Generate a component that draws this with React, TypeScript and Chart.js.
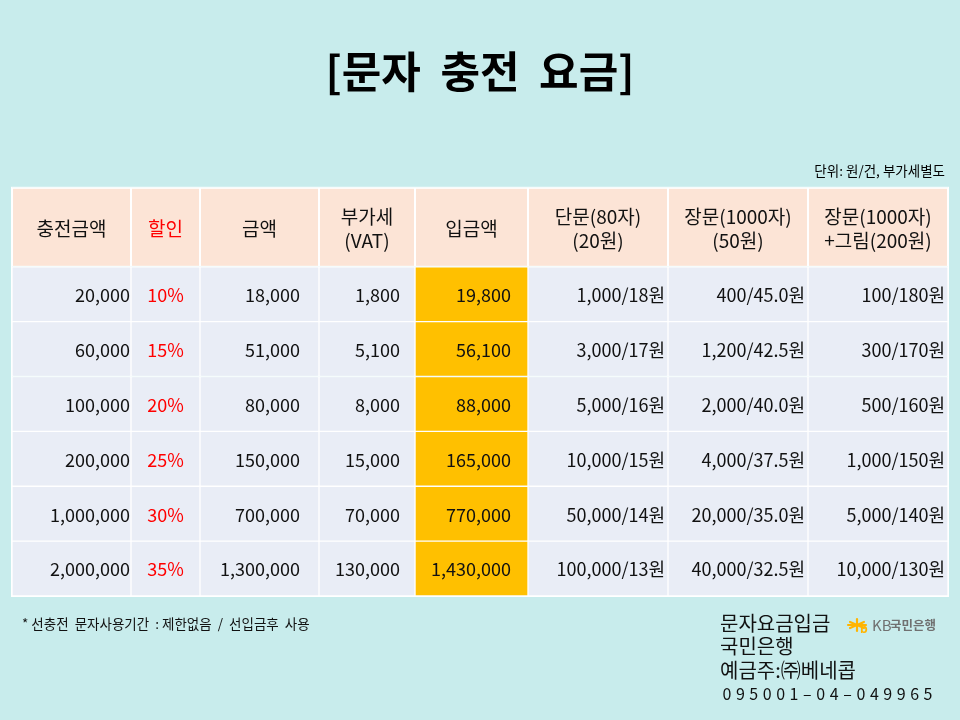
import React, { useEffect, useRef } from 'react';
import { Chart, registerables } from 'chart.js';

Chart.register(...registerables);

// ---------- data ----------
const titleText = '[문자  충전  요금]';
const unitText = '단위: 원/건, 부가세별도 ';
const headers: string[][] = [
  ['충전금액'],
  ['할인'],
  ['금액'],
  ['부가세', '(VAT)'],
  ['입금액'],
  ['단문(80자)', '(20원)'],
  ['장문(1000자)', '(50원)'],
  ['장문(1000자)', '+그림(200원)'],
];
const chargeAmounts = ['20,000', '60,000', '100,000', '200,000', '1,000,000', '2,000,000'];
const discounts = ['10%', '15%', '20%', '25%', '30%', '35%'];
const netAmounts = ['18,000', '51,000', '80,000', '150,000', '700,000', '1,300,000'];
const vatAmounts = ['1,800', '5,100', '8,000', '15,000', '70,000', '130,000'];
const depositAmounts = ['19,800', '56,100', '88,000', '165,000', '770,000', '1,430,000'];
const shortMsg = ['1,000/18원', '3,000/17원', '5,000/16원', '10,000/15원', '50,000/14원', '100,000/13원'];
const longMsg = ['400/45.0원', '1,200/42.5원', '2,000/40.0원', '4,000/37.5원', '20,000/35.0원', '40,000/32.5원'];
const longImgMsg = ['100/180원', '300/170원', '500/160원', '1,000/150원', '5,000/140원', '10,000/130원'];
const noteText = '* 선충전  문자사용기간  : 제한없음  /  선입금후  사용';
const bankLines = ['문자요금입금', '국민은행', '예금주:㈜베네콥'];
const accountNumber = '095001-04-049965';

const columns = [chargeAmounts, discounts, netAmounts, vatAmounts, depositAmounts, shortMsg, longMsg, longImgMsg];

// ---------- layout / style ----------
const colWidths = [119, 69, 119, 96, 113, 140, 140, 140];
const colAlign: CanvasTextAlign[] = ['right', 'center', 'right', 'right', 'right', 'right', 'right', 'right'];
const colPad = [1, 0, 19, 15, 17, 3, 3, 3];
const redCols = [1];
const highlightCol = 4;

const FONT = "'Noto Sans CJK KR', 'Noto Sans', sans-serif";
const BG = '#C8ECEC';
const HEADER_BG = '#FCE4D6';
const CELL_BG = '#E9EDF6';
const HIGHLIGHT_BG = '#FFC000';
const RED = '#FF0000';
const TEXT = '#111111';

const colBounds: [number, number][] = [];
{
  let acc = 0;
  colWidths.forEach((w) => {
    colBounds.push([acc, acc + w]);
    acc += w;
  });
}
const totalWidth = colWidths.reduce((a, b) => a + b, 0);

const tablePlugin = {
  id: 'tablePlugin',
  beforeDatasetsDraw(chart: any) {
    const { ctx } = chart;
    const xs = chart.scales.x;
    const top = xs.top;
    const bottom = xs.bottom;
    ctx.save();
    colBounds.forEach(([a, b], c) => {
      const l = xs.getPixelForValue(a);
      const r = xs.getPixelForValue(b);
      ctx.fillStyle = '#FFFFFF';
      ctx.fillRect(l, top, r - l, bottom - top);
      ctx.fillStyle = HEADER_BG;
      ctx.fillRect(l + 1, top + 1, r - l - 2, bottom - top - 2);
      ctx.fillStyle = redCols.includes(c) ? RED : TEXT;
      ctx.font = `19px ${FONT}`;
      ctx.textAlign = 'center';
      ctx.textBaseline = 'middle';
      const lines = headers[c];
      const cy = (top + bottom) / 2 + 1;
      lines.forEach((ln, k) => {
        ctx.fillText(ln, (l + r) / 2, cy + (k - (lines.length - 1) / 2) * 24);
      });
    });
    ctx.restore();
  },
  afterDatasetsDraw(chart: any) {
    const { ctx } = chart;
    ctx.save();
    ctx.font = `18px ${FONT}`;
    ctx.textBaseline = 'middle';
    chart.data.datasets.forEach((_ds: any, c: number) => {
      const meta = chart.getDatasetMeta(c);
      meta.data.forEach((el: any, i: number) => {
        const l = Math.min(el.x, el.base);
        const r = Math.max(el.x, el.base);
        const txt = columns[c][i];
        ctx.fillStyle = redCols.includes(c) ? RED : TEXT;
        ctx.textAlign = colAlign[c];
        const x = colAlign[c] === 'center' ? (l + r) / 2 + colPad[c] : r - colPad[c];
        ctx.fillText(txt, x, el.y + 1);
      });
    });
    // outer border
    const xs = chart.scales.x;
    const ca = chart.chartArea;
    ctx.strokeStyle = '#FFFFFF';
    ctx.lineWidth = 1;
    ctx.strokeRect(ca.left - 0.5, xs.top - 0.5, ca.right - ca.left + 1, ca.bottom - xs.top + 1);
    ctx.restore();
  },
  afterDraw(chart: any) {
    const { ctx } = chart;
    ctx.save();
    ctx.fillStyle = TEXT;
    ctx.textBaseline = 'middle';
    ctx.textAlign = 'left';
    ctx.font = `13.5px ${FONT}`;
    ctx.fillText(noteText, 22, 624);

    ctx.font = `20px ${FONT}`;
    bankLines.forEach((ln, k) => ctx.fillText(ln, 720, 623 + k * 23.5));

    ctx.font = `16px ${FONT}`;
    const chars = accountNumber.split('');
    chars.forEach((ch, k) => {
      ctx.textAlign = 'center';
      ctx.fillText(ch === '-' ? '–' : ch, 727 + k * 13.4, 694);
    });

    // KB logo
    const cx = 857;
    const cy = 625;
    ctx.strokeStyle = '#FFB400';
    ctx.lineWidth = 2.2;
    ctx.lineCap = 'round';
    for (let k = 0; k < 3; k++) {
      const ang = (k * Math.PI) / 3 + Math.PI / 6;
      ctx.beginPath();
      ctx.moveTo(cx - Math.cos(ang) * 8, cy - Math.sin(ang) * 6);
      ctx.lineTo(cx + Math.cos(ang) * 8, cy + Math.sin(ang) * 6);
      ctx.stroke();
    }
    ctx.beginPath();
    ctx.moveTo(cx - 9, cy);
    ctx.lineTo(cx + 9, cy);
    ctx.stroke();
    ctx.fillStyle = '#FFB400';
    ctx.font = `bold 12px ${FONT}`;
    ctx.textAlign = 'left';
    ctx.fillText('b', cx + 3, cy + 3);
    ctx.fillStyle = '#707070';
    ctx.font = `15px ${FONT}`;
    ctx.fillText('KB', 872, cy);
    ctx.font = `bold 12.5px ${FONT}`;
    ctx.fillText('국민은행', 890, cy);
    ctx.restore();
  },
};

export default function App() {
  const ref = useRef<HTMLCanvasElement | null>(null);
  useEffect(() => {
    if (!ref.current) return;
    const chart = new Chart(ref.current, {
      type: 'bar',
      data: {
        labels: chargeAmounts,
        datasets: columns.map((_col, c) => ({
          label: headers[c].join(' '),
          data: chargeAmounts.map(() => [colBounds[c][0], colBounds[c][1]] as [number, number]),
          backgroundColor: c === highlightCol ? HIGHLIGHT_BG : CELL_BG,
          borderColor: '#FFFFFF',
          borderWidth: 1,
          borderSkipped: false,
          barPercentage: 1,
          categoryPercentage: 1,
          grouped: false,
        })),
      },
      options: {
        indexAxis: 'y',
        responsive: false,
        animation: false,
        layout: { padding: { left: 12, right: 12, top: 0, bottom: 124 } },
        scales: {
          x: {
            type: 'linear',
            position: 'top',
            min: 0,
            max: totalWidth,
            grid: { display: false },
            border: { display: false },
            ticks: { display: false },
            afterFit: (s: any) => {
              s.height = 79;
            },
          },
          y: {
            type: 'category',
            display: false,
          },
        },
        plugins: {
          legend: { display: false },
          tooltip: { enabled: false },
          title: {
            display: true,
            text: titleText,
            color: '#000000',
            font: { family: FONT, size: 43, weight: 'bold', lineHeight: 1.2 },
            padding: { top: 46, bottom: 65 },
          },
          subtitle: {
            display: true,
            text: unitText,
            align: 'end',
            color: '#000000',
            font: { family: FONT, size: 13.5, lineHeight: 1.2 },
            padding: { top: 0, bottom: 9 },
          },
        },
      },
      plugins: [tablePlugin],
    } as any);
    return () => chart.destroy();
  }, []);
  return (
    <div style={{ position: 'absolute', left: 0, top: 0, width: 960, height: 720, background: BG }}>
      <canvas ref={ref} width={960} height={720} style={{ display: 'block', width: 960, height: 720 }} />
    </div>
  );
}
